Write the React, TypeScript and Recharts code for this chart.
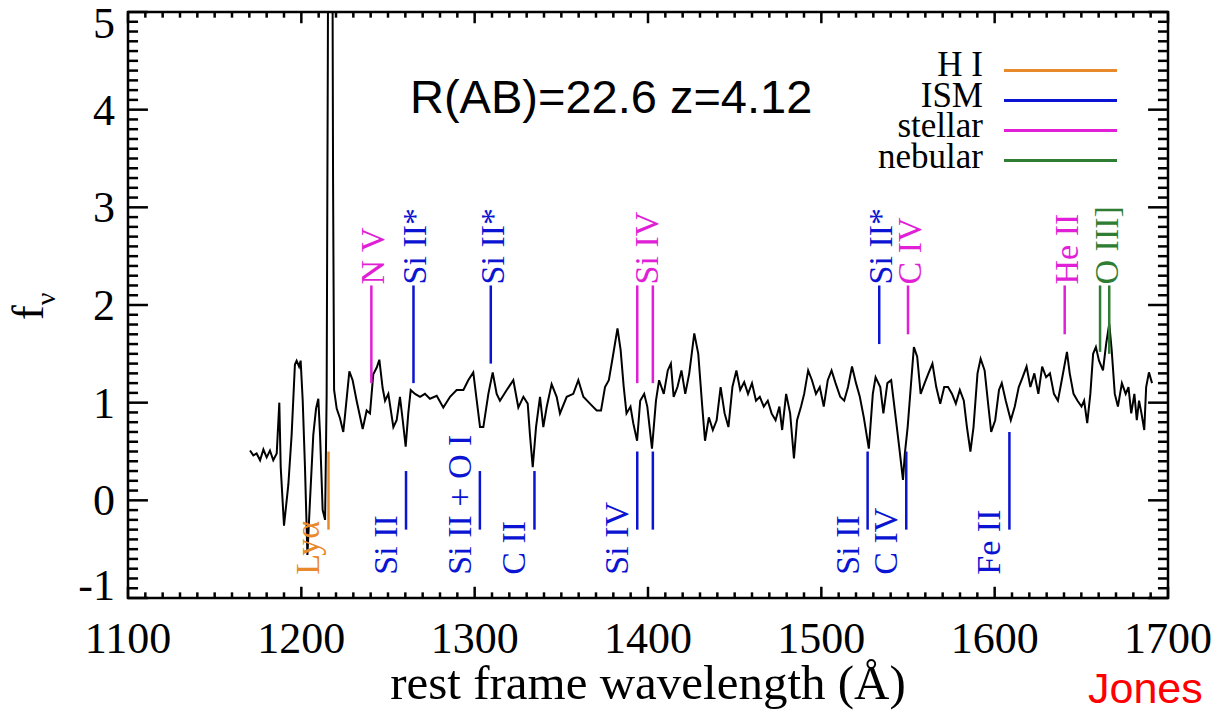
import React from 'react';
import { ComposedChart, Line, XAxis, YAxis, ReferenceLine, ReferenceArea, Scatter } from 'recharts';

// ---- spectrum (rest-frame wavelength in Å, f_nu) ----
const wavelength = [
  1170.4, 1172.3, 1174.2, 1176.2, 1178.1, 1180.0, 1181.9, 1183.8, 1185.8, 1187.3,
  1188.1, 1190.0, 1192.5, 1194.4, 1196.3, 1197.3, 1198.7, 1199.6, 1200.8, 1202.1,
  1203.5, 1205.0, 1206.9, 1208.5, 1209.8, 1210.8, 1212.3, 1213.7, 1214.6, 1215.3,
  1215.8, 1217.6, 1218.3, 1218.9, 1220.4, 1222.3, 1224.2, 1225.2, 1227.7, 1229.6,
  1231.9, 1235.4, 1237.7, 1239.6, 1241.5, 1243.5, 1245.0, 1246.9, 1248.3, 1250.2,
  1253.1, 1255.0, 1256.9, 1258.5, 1260.2, 1261.7, 1263.1, 1265.6, 1268.5, 1271.3,
  1274.2, 1278.1, 1281.9, 1285.8, 1289.6, 1293.5, 1296.3, 1299.2, 1301.2, 1303.1,
  1305.0, 1307.9, 1310.4, 1312.7, 1314.6, 1318.5, 1322.3, 1325.2, 1328.1, 1330.6,
  1331.9, 1333.5, 1335.4, 1337.7, 1339.6, 1341.5, 1344.4, 1347.3, 1349.2, 1353.1,
  1356.9, 1359.8, 1362.7, 1366.5, 1370.4, 1372.9, 1375.2, 1377.4, 1379.7, 1382.4,
  1384.2, 1386.0, 1387.6, 1389.9, 1391.5, 1393.7, 1395.5, 1397.8, 1399.6, 1402.3,
  1404.6, 1406.4, 1409.1, 1411.4, 1413.2, 1414.8, 1417.0, 1419.3, 1421.5, 1423.8,
  1426.7, 1429.0, 1431.3, 1432.9, 1435.1, 1437.4, 1439.6, 1441.9, 1444.2, 1446.4,
  1448.7, 1451.0, 1453.2, 1455.5, 1457.7, 1460.0, 1462.3, 1464.5, 1466.8, 1469.1,
  1471.3, 1473.6, 1475.8, 1477.4, 1479.7, 1482.0, 1484.2, 1486.0, 1488.3, 1490.1,
  1492.4, 1494.6, 1496.9, 1499.1, 1501.4, 1503.7, 1505.9, 1508.2, 1510.9, 1513.2,
  1515.4, 1517.7, 1520.0, 1522.2, 1524.5, 1527.4, 1529.7, 1531.3, 1534.0, 1535.8,
  1538.1, 1540.3, 1542.6, 1544.9, 1547.1, 1548.2, 1549.8, 1551.6, 1553.4, 1555.3,
  1557.3, 1559.6, 1561.8, 1564.1, 1566.3, 1568.6, 1570.9, 1573.1, 1575.4, 1577.6,
  1579.9, 1582.2, 1584.0, 1586.0, 1587.8, 1590.1, 1591.9, 1594.2, 1596.4, 1598.0,
  1600.3, 1602.5, 1604.1, 1606.4, 1609.3, 1611.6, 1613.9, 1616.1, 1618.4, 1620.6,
  1622.9, 1625.2, 1627.4, 1629.7, 1631.9, 1634.2, 1636.5, 1638.7, 1641.7, 1643.3,
  1645.5, 1647.8, 1650.1, 1651.6, 1653.4, 1655.2, 1656.8, 1658.4, 1660.2, 1662.5,
  1664.3, 1666.1, 1667.5, 1669.3, 1671.1, 1673.4, 1675.6, 1677.2, 1678.8, 1680.6,
  1682.0, 1683.3, 1684.7, 1686.3, 1687.4, 1689.0, 1690.8,
];
const flux = [
  0.51, 0.46, 0.48, 0.41, 0.52, 0.44, 0.51, 0.41, 0.48, 1.00,
  0.34, -0.26, 0.16, 0.67, 1.39, 1.43, 1.37, 1.43, 1.02, 0.34,
  -0.56, 0.00, 0.67, 0.94, 1.04, 0.67, -0.10, -0.20, 1.07, 4.60,
  8.00, 8.00, 3.30, 1.13, 0.94, 0.84, 0.70, 0.87, 1.32, 1.23,
  1.02, 0.73, 0.92, 0.89, 1.29, 1.36, 1.44, 1.15, 1.02, 1.09,
  0.75, 0.82, 1.06, 0.82, 0.55, 0.89, 1.13, 1.09, 1.06, 1.09,
  1.04, 1.07, 0.95, 1.06, 1.13, 1.13, 1.23, 1.31, 1.02, 0.75,
  0.75, 1.09, 1.31, 1.09, 1.02, 1.13, 1.23, 0.95, 1.06, 0.99,
  0.67, 0.34, 0.75, 1.06, 0.75, 0.95, 1.19, 1.06, 0.89, 1.06,
  1.09, 1.23, 1.06, 0.99, 0.92, 0.92, 1.16, 1.23, 1.47, 1.76,
  1.54, 1.16, 0.89, 0.96, 0.79, 0.61, 1.02, 1.09, 0.96, 0.53,
  1.02, 1.23, 1.09, 1.33, 1.40, 1.06, 1.16, 1.33, 1.09, 1.30,
  1.71, 1.50, 0.96, 0.61, 0.85, 0.72, 0.82, 1.16, 0.89, 0.75,
  1.16, 1.33, 1.13, 1.21, 1.09, 1.20, 1.02, 1.06, 0.96, 1.02,
  0.89, 0.82, 0.96, 0.72, 1.09, 0.89, 0.43, 0.82, 0.96, 1.09,
  1.33, 1.23, 1.09, 1.16, 0.96, 1.23, 1.33, 1.20, 1.06, 1.02,
  1.16, 1.37, 1.20, 1.06, 0.85, 0.53, 1.09, 1.26, 1.16, 0.89,
  1.20, 1.23, 0.89, 0.55, 0.21, 0.48, 0.75, 1.16, 1.57, 1.47,
  1.09, 1.20, 1.30, 1.40, 1.16, 0.99, 1.16, 1.16, 1.09, 0.99,
  1.13, 1.02, 0.75, 0.50, 0.75, 1.30, 1.45, 1.33, 0.96, 0.70,
  0.82, 1.13, 1.20, 1.02, 0.82, 0.96, 1.16, 1.26, 1.37, 1.16,
  1.30, 1.09, 1.37, 1.26, 1.30, 1.09, 1.02, 1.23, 1.52, 1.30,
  1.09, 1.02, 0.96, 1.02, 0.79, 1.09, 1.50, 1.57, 1.43, 1.33,
  1.60, 1.81, 1.54, 1.09, 0.96, 1.20, 1.09, 1.16, 0.89, 1.09,
  0.82, 1.02, 0.89, 0.72, 1.16, 1.31, 1.20,
];

// ---- axes ----
const xTicks = [1100, 1200, 1300, 1400, 1500, 1600, 1700];
const yTicks = [-1, 0, 1, 2, 3, 4, 5];

// ---- line identifications ----
const kindColor: Record<string, string> = {
  HI: '#E8892B',
  ISM: '#0A14D2',
  stellar: '#E01FD6',
  nebular: '#2E7D32',
};
const legendNames = ['H I', 'ISM', 'stellar', 'nebular'];
const legendKinds = ['HI', 'ISM', 'stellar', 'nebular'];

// markers above the spectrum (from value -> top 2.2)
const upperWave = [1240.4, 1264.7, 1309.3, 1393.8, 1402.8, 1533.4, 1550.0, 1640.4, 1660.8, 1666.1];
const upperBottom = [1.2, 1.2, 1.4, 1.2, 1.2, 1.6, 1.7, 1.7, 1.52, 1.5];
const upperKind = ['stellar', 'ISM', 'ISM', 'stellar', 'stellar', 'ISM', 'stellar', 'stellar', 'nebular', 'nebular'];
const upperTop = 2.2;

const upperLabelWave = [1240.4, 1264.7, 1309.3, 1398.3, 1533.4, 1550.0, 1640.4, 1663.5];
const upperLabelText = ['N V', 'Si II*', 'Si II*', 'Si IV', 'Si II*', 'C IV', 'He II', 'O III]'];
const upperLabelKind = ['stellar', 'ISM', 'ISM', 'stellar', 'ISM', 'stellar', 'stellar', 'nebular'];

// markers below the spectrum (from top value -> bottom -0.3)
const lowerWave = [1215.67, 1260.4, 1303.0, 1334.5, 1393.8, 1402.8, 1526.7, 1549.0, 1608.5];
const lowerTopVal = [0.5, 0.3, 0.3, 0.3, 0.5, 0.5, 0.5, 0.5, 0.7];
const lowerKind = ['HI', 'ISM', 'ISM', 'ISM', 'ISM', 'ISM', 'ISM', 'ISM', 'ISM'];
const lowerBottom = -0.3;

const lowerLabelWave = [1215.67, 1260.4, 1303.0, 1334.5, 1393.8, 1526.7, 1549.0, 1608.5];
const lowerLabelText = ['Lyα', 'Si II', 'Si II + O I', 'C II', 'Si IV', 'Si II', 'C IV', 'Fe II'];
const lowerLabelKind = ['HI', 'ISM', 'ISM', 'ISM', 'ISM', 'ISM', 'ISM', 'ISM'];

const SERIF = "'Liberation Serif', 'Times New Roman', serif";
const SANS = "'Liberation Sans', Arial, sans-serif";

const W = 1216;
const H = 714;

const spectrum = wavelength.map((w, i) => ({ w, f: flux[i] }));
const upperLabels = upperLabelWave.map((w, i) => ({ w, v: upperTop, text: upperLabelText[i], color: kindColor[upperLabelKind[i]] }));
const lowerLabels = lowerLabelWave.map((w, i) => ({ w, v: lowerBottom, text: lowerLabelText[i], color: kindColor[lowerLabelKind[i]] }));

const UpperLabel = (props: any) => {
  const { cx, cy, payload } = props;
  if (cx == null || cy == null) return null;
  return (
    <text transform={`translate(${cx + 13}, ${cy - 1}) rotate(-90)`} fill={payload.color} fontSize={34} fontFamily={SERIF}>
      {payload.text}
    </text>
  );
};
const LowerLabel = (props: any) => {
  const { cx, cy, payload } = props;
  if (cx == null || cy == null) return null;
  return (
    <text transform={`translate(${cx - 9}, ${cy + 45}) rotate(-90)`} fill={payload.color} fontSize={34} fontFamily={SERIF}>
      {payload.text}
    </text>
  );
};

const XTick = (props: any) => {
  const { x, y, payload } = props;
  return (
    <text x={x} y={y + 55} textAnchor="middle" fontSize={44} fontFamily={SERIF} fill="#000">
      {payload.value}
    </text>
  );
};
const YTick = (props: any) => {
  const { x, y, payload } = props;
  const cy = Math.min(Math.max(y, 23), 585);
  return (
    <text x={x - 13} y={cy + 15} textAnchor="end" fontSize={44} fontFamily={SERIF} fill="#000">
      {payload.value}
    </text>
  );
};

export default function App() {
  const xMinor = Array.from({ length: 61 }, (_, i) => 1100 + i * 10);
  const yMinor = Array.from({ length: 61 }, (_, i) => Math.round((-1 + i * 0.1) * 10) / 10);
  const tickW = 2.5;
  return (
    <div style={{ position: 'absolute', left: 0, top: 0, width: W, height: H, background: '#fff', overflow: 'hidden' }}>
      <ComposedChart width={W} height={H} margin={{ top: 12, right: 48, bottom: 86, left: 68 }}>
        <XAxis
          type="number"
          dataKey="w"
          domain={[1100, 1700]}
          ticks={xTicks}
          interval={0}
          allowDataOverflow
          axisLine={false}
          tickLine={false}
          tickSize={0}
          tickMargin={0}
          height={30}
          tick={<XTick />}
        />
        <YAxis
          type="number"
          domain={[-1, 5]}
          ticks={yTicks}
          interval={0}
          allowDataOverflow
          axisLine={false}
          tickLine={false}
          tickSize={0}
          tickMargin={0}
          width={60}
          tick={<YTick />}
        />
        <ReferenceArea x1={1100} x2={1700} y1={-1} y2={5} fill="none" stroke="#000" strokeWidth={2.5} ifOverflow="visible" />
        {xMinor.map((t) => {
          const major = t % 100 === 0;
          const len = major ? 0.115 : 0.058;
          return (
            <React.Fragment key={'xt' + t}>
              <ReferenceLine segment={[{ x: t, y: -1 }, { x: t, y: -1 + len }]} stroke="#000" strokeWidth={tickW} ifOverflow="visible" />
              <ReferenceLine segment={[{ x: t, y: 5 }, { x: t, y: 5 - len }]} stroke="#000" strokeWidth={tickW} ifOverflow="visible" />
            </React.Fragment>
          );
        })}
        {yMinor.map((t, i) => {
          const major = i % 10 === 0;
          const len = major ? 11.5 : 5.8;
          return (
            <React.Fragment key={'yt' + i}>
              <ReferenceLine segment={[{ x: 1100, y: t }, { x: 1100 + len, y: t }]} stroke="#000" strokeWidth={tickW} ifOverflow="visible" />
              <ReferenceLine segment={[{ x: 1700, y: t }, { x: 1700 - len, y: t }]} stroke="#000" strokeWidth={tickW} ifOverflow="visible" />
            </React.Fragment>
          );
        })}
        <Line
          data={spectrum}
          dataKey="f"
          type="linear"
          stroke="#000"
          strokeWidth={2}
          dot={false}
          activeDot={false}
          isAnimationActive={false}
        />
        {upperWave.map((w, i) => (
          <ReferenceLine
            key={'u' + i}
            segment={[{ x: w, y: upperBottom[i] }, { x: w, y: upperTop }]}
            stroke={kindColor[upperKind[i]]}
            strokeWidth={2.5}
            ifOverflow="visible"
          />
        ))}
        {lowerWave.map((w, i) => (
          <ReferenceLine
            key={'l' + i}
            segment={[{ x: w, y: lowerTopVal[i] }, { x: w, y: lowerBottom }]}
            stroke={kindColor[lowerKind[i]]}
            strokeWidth={2.5}
            ifOverflow="visible"
          />
        ))}
        <Scatter data={upperLabels} dataKey="v" shape={<UpperLabel />} isAnimationActive={false} />
        <Scatter data={lowerLabels} dataKey="v" shape={<LowerLabel />} isAnimationActive={false} />
      </ComposedChart>
      <svg width={W} height={H} style={{ position: 'absolute', left: 0, top: 0, pointerEvents: 'none' }}>
        <text x={410} y={113} fontSize={47} fontFamily={SANS} fill="#000">R(AB)=22.6 z=4.12</text>
        {legendNames.map((name, i) => (
          <React.Fragment key={name}>
            <text x={983} y={76 + i * 30.7} textAnchor="end" fontSize={35} fontFamily={SERIF} fill="#000">{name}</text>
            <line x1={1004} x2={1117} y1={70.5 + i * 30} y2={70.5 + i * 30} stroke={kindColor[legendKinds[i]]} strokeWidth={3} />
          </React.Fragment>
        ))}
        <text x={648} y={699} textAnchor="middle" fontSize={49} fontFamily={SERIF} fill="#000">rest frame wavelength (Å)</text>
        <text transform="translate(43, 320) rotate(-90)" fontSize={44} fontFamily={SERIF} fill="#000">
          f<tspan dy={12} fontSize={28}>ν</tspan>
        </text>
        <text x={1088} y={703} fontSize={43} fontFamily={SANS} fill="#FF0000">Jones</text>
      </svg>
    </div>
  );
}
